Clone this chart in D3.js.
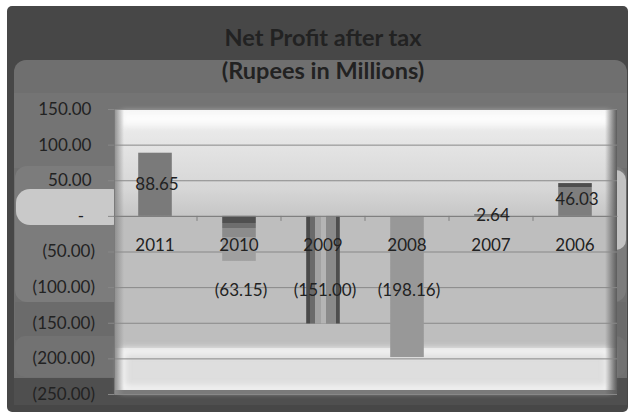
<!DOCTYPE html>
<html>
<head>
<meta charset="utf-8">
<script src="https://cdn.jsdelivr.net/npm/d3@7"></script>
<style>
  body { margin: 0; background: #fff; }
  text { font-family: Lato, "Open Sans", sans-serif; fill: #222; }
</style>
</head>
<body>
<script>
'use strict'

// chart data
var categories = ["2011", "2010", "2009", "2008", "2007", "2006"];
var profit = [88.65, -63.15, -151.00, -198.16, 2.64, 46.03];
var yTicks = [150, 100, 50, 0, -50, -100, -150, -200, -250];
var titleLines = ["Net Profit after tax", "(Rupees in Millions)"];

// grey shades of the (originally coloured) bars
var barShades = [
	{ dir: "v", stops: [[0, "#7a7a7a"], [1, "#7a7a7a"]] },
	{ dir: "v", stops: [[0, "#505050"], [0.15, "#505050"], [0.15, "#6e6e6e"], [0.27, "#6e6e6e"], [0.27, "#8c8c8c"], [0.47, "#8c8c8c"], [0.47, "#a0a0a0"], [1, "#a0a0a0"]] },
	{ dir: "h", stops: [[0, "#4a4a4a"], [0.1, "#4a4a4a"], [0.1, "#6a6a6a"], [0.27, "#6a6a6a"], [0.27, "#a2a2a2"], [0.44, "#a2a2a2"], [0.44, "#b4b4b4"], [0.59, "#b4b4b4"], [0.59, "#8a8a8a"], [0.88, "#8a8a8a"], [0.88, "#4e4e4e"], [1, "#4e4e4e"]] },
	{ dir: "v", stops: [[0, "#989898"], [1, "#989898"]] },
	{ dir: "v", stops: [[0, "#7a7a7a"], [1, "#7a7a7a"]] },
	{ dir: "v", stops: [[0, "#4e4e4e"], [0.13, "#4e4e4e"], [0.13, "#7e7e7e"], [1, "#7e7e7e"]] }
];

var WIDTH = 634,
	HEIGHT = 416;

var plot = { left: 114, right: 617, top: 109, bottom: 394 };

var svg = d3.select("body").append("svg")
	.attr("width", WIDTH)
	.attr("height", HEIGHT);

var defs = svg.append("defs");

defs.append("filter").attr("id", "blur")
	.attr("x", "-20%").attr("y", "-50%").attr("width", "140%").attr("height", "200%")
	.append("feGaussianBlur").attr("stdDeviation", 3);

function gradient(id, dir, stops) {
	var g = defs.append("linearGradient").attr("id", id)
		.attr("x1", 0).attr("y1", 0)
		.attr("x2", dir == "h" ? 1 : 0).attr("y2", dir == "h" ? 0 : 1);
	stops.forEach(function (s) {
		g.append("stop").attr("offset", s[0]).attr("stop-color", s[1]);
	});
}

gradient("topBg", "v", [[0, "#f4f4f4"], [0.12, "#ececec"], [0.4, "#e2e2e2"], [0.75, "#d6d6d6"], [1, "#c6c6c6"]]);
gradient("leftShade", "h", [[0, "#8c8c8c"], [1, "rgba(140,140,140,0)"]]);
gradient("rightShade", "h", [[0, "rgba(90,90,90,0)"], [1, "#5c5c5c"]]);
barShades.forEach(function (s, i) { gradient("bar" + i, s.dir, s.stops); });

// ---- frame ----
svg.append("rect")
	.attr("x", 7).attr("y", 6).attr("width", 621).attr("height", 406)
	.attr("rx", 5).attr("fill", "#474747");

svg.append("rect")
	.attr("x", 14).attr("y", 60).attr("width", 613).attr("height", 344)
	.attr("rx", 12).attr("fill", "#6f6f6f");

svg.append("rect")
	.attr("x", 14).attr("y", 93).attr("width", 613).attr("height", 75)
	.attr("fill", "#747474");

svg.append("rect")
	.attr("x", 15).attr("y", 166).attr("width", 611).attr("height", 136)
	.attr("rx", 12).attr("fill", "#7c7c7c");

svg.append("rect")
	.attr("x", 15).attr("y", 302).attr("width", 611).attr("height", 38)
	.attr("fill", "#6b6b6b");

svg.append("rect")
	.attr("x", 15).attr("y", 336).attr("width", 611).attr("height", 41)
	.attr("rx", 10).attr("fill", "#727272");

svg.append("rect")
	.attr("x", 14).attr("y", 378).attr("width", 613).attr("height", 27)
	.attr("fill", "#4f4f4f");

// light pills either side of the zero line
svg.append("rect")
	.attr("x", 16).attr("y", 189).attr("width", 110).attr("height", 36)
	.attr("rx", 14).attr("fill", "#c9c9c9");

svg.append("rect")
	.attr("x", 600).attr("y", 170).attr("width", 26).attr("height", 80)
	.attr("rx", 10).attr("fill", "#c2c2c2");

// ---- plot area ----
var zeroY = 216;

svg.append("rect")
	.attr("x", plot.left).attr("y", plot.top)
	.attr("width", plot.right - plot.left).attr("height", plot.bottom - plot.top)
	.attr("fill", "#bebebe");

svg.append("rect")
	.attr("x", plot.left).attr("y", plot.top)
	.attr("width", plot.right - plot.left).attr("height", zeroY - plot.top)
	.attr("fill", "url(#topBg)");

svg.append("rect")
	.attr("x", plot.left + 8).attr("y", plot.top + 3)
	.attr("width", plot.right - plot.left - 16).attr("height", 14)
	.attr("fill", "#fff").attr("opacity", 0.8)
	.attr("filter", "url(#blur)");

svg.append("rect")
	.attr("x", plot.left).attr("y", 348)
	.attr("width", plot.right - plot.left).attr("height", plot.bottom - 348)
	.attr("fill", "#dedede");

svg.append("rect")
	.attr("x", plot.left + 8).attr("y", 351)
	.attr("width", plot.right - plot.left - 16).attr("height", 38)
	.attr("fill", "none").attr("stroke", "#fafafa").attr("stroke-width", 5)
	.attr("filter", "url(#blur)");

svg.append("rect")
	.attr("x", plot.left).attr("y", plot.bottom - 4)
	.attr("width", plot.right - plot.left).attr("height", 4)
	.attr("fill", "#7a7a7a");

svg.append("rect")
	.attr("x", plot.left).attr("y", plot.top)
	.attr("width", 10).attr("height", plot.bottom - plot.top)
	.attr("fill", "url(#leftShade)");

svg.append("rect")
	.attr("x", plot.right - 12).attr("y", plot.top)
	.attr("width", 12).attr("height", plot.bottom - plot.top)
	.attr("fill", "url(#rightShade)");

// ---- scales ----
var y = d3.scaleLinear()
	.domain([-250, 150])
	.range([plot.bottom, plot.top]);

var x = d3.scaleBand()
	.domain(categories)
	.range([plot.left - 1, plot.right])
	.paddingInner(0.6)
	.paddingOuter(0.3);

function fmt(v) {
	if (v == 0) return "-";
	var s = d3.format(",.2f")(Math.abs(v));
	return v < 0 ? "(" + s + ")" : s;
}

// gridlines
var grid = svg.append("g")
	.attr("transform", "translate(" + plot.left + ",0)")
	.call(d3.axisLeft(y).tickValues(yTicks).tickSize(-(plot.right - plot.left)).tickFormat(""));
grid.select(".domain").remove();
grid.selectAll("line").attr("stroke", "#888");

// bars
svg.append("g").selectAll("rect")
	.data(profit)
	.join("rect")
	.attr("x", function (d, i) { return x(categories[i]); })
	.attr("y", function (d) { return y(Math.max(0, d)); })
	.attr("width", x.bandwidth())
	.attr("height", function (d) { return Math.abs(y(d) - y(0)); })
	.attr("fill", function (d, i) { return "url(#bar" + i + ")"; });

// y axis
var yAxis = svg.append("g")
	.attr("transform", "translate(" + plot.left + ",0)")
	.call(d3.axisLeft(y).tickValues(yTicks).tickSize(6).tickPadding(13).tickFormat(fmt));
yAxis.select(".domain").attr("stroke", "#7a7a7a");
yAxis.selectAll("line").attr("stroke", "#888");
yAxis.selectAll("text")
	.style("font-size", "17px")
	.attr("fill", "#222")
	.attr("dx", function (d) { return d > 0 ? -3.5 : (d == 0 ? -11 : 0); });

// x axis on the zero line
var xAxis = svg.append("g")
	.attr("transform", "translate(0," + y(0) + ")")
	.call(d3.axisBottom(x).tickSize(0).tickPadding(23));
xAxis.select(".domain").attr("stroke", "#7f7f7f");
xAxis.selectAll("text").style("font-size", "17px").attr("fill", "#222");

xAxis.selectAll(".sep")
	.data(d3.range(1, categories.length))
	.join("line")
	.attr("x1", function (i) { return x.range()[0] + i * x.step(); })
	.attr("x2", function (i) { return x.range()[0] + i * x.step(); })
	.attr("y1", 0).attr("y2", 5)
	.attr("stroke", "#7f7f7f");

// data labels
svg.append("g").selectAll("text")
	.data(profit)
	.join("text")
	.attr("x", function (d, i) { return x(categories[i]) + x.bandwidth() / 2 + 2; })
	.attr("y", function (d) { return d > 0 ? y(d / 2) : y(0) + 74; })
	.attr("dy", "0.35em")
	.attr("text-anchor", "middle")
	.style("font-size", "17px")
	.text(fmt);

// title
svg.append("g").selectAll("text")
	.data(titleLines)
	.join("text")
	.attr("x", 323)
	.attr("y", function (d, i) { return 46 + i * 33; })
	.attr("text-anchor", "middle")
	.style("font-size", "23.5px")
	.style("font-weight", "bold")
	.attr("fill", "#1a1a1a")
	.text(function (d) { return d; });
</script>
</body>
</html>
